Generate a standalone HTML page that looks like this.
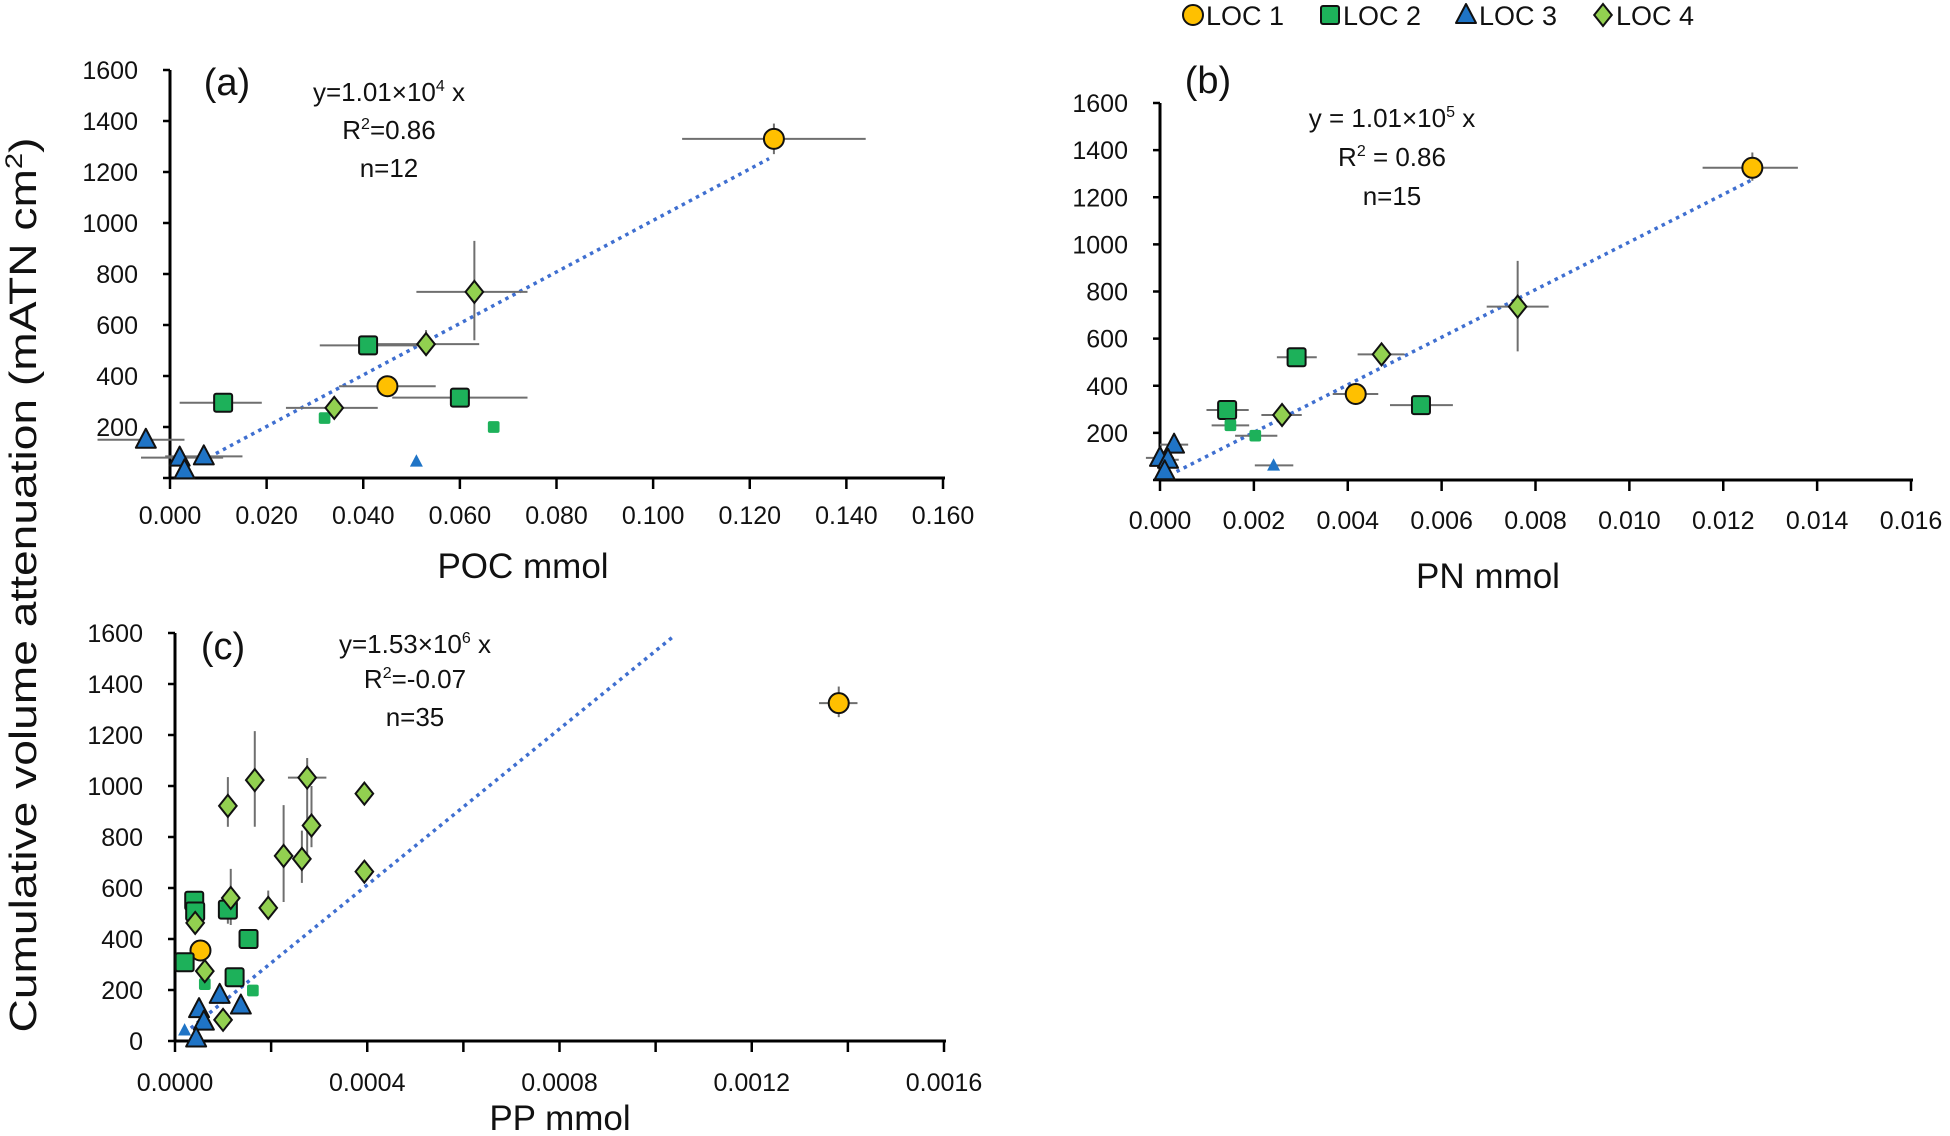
<!DOCTYPE html>
<html><head><meta charset="utf-8"><style>
html,body{margin:0;padding:0;background:#fff;overflow:hidden;}
svg{display:block;font-family:"Liberation Sans",sans-serif;}
</style></head><body>
<svg id="chart" width="1950" height="1136" viewBox="0 0 1950 1136" xmlns="http://www.w3.org/2000/svg"></svg>
<script>
// ---- data ----
const seriesNames = ["LOC 1","LOC 2","LOC 3","LOC 4"];
// points: [x, y, xLow, xHigh, yLow, yHigh, small(0/1)]
const aLoc1 = [[0.125,1330,0.106,0.144,1270,1390,0],[0.045,360,0.035,0.055,330,390,0]];
const aLoc2 = [[0.011,295,0.002,0.019,260,330,0],[0.041,520,0.031,0.054,520,520,0],[0.060,315,0.046,0.074,315,315,0],[0.032,235,0.032,0.032,235,235,1],[0.067,200,0.067,0.067,200,200,1]];
const aLoc3 = [[-0.005,150,-0.015,0.003,150,150,0],[0.002,80,-0.006,0.011,80,80,0],[0.007,85,-0.001,0.015,85,85,0],[0.003,30,0.003,0.003,30,30,0],[0.051,65,0.051,0.051,65,65,1]];
const aLoc4 = [[0.063,730,0.051,0.074,540,930,0],[0.053,525,0.043,0.064,480,580,0],[0.034,275,0.024,0.043,250,300,0]];
const bLoc1 = [[0.01262,1325,0.01156,0.01359,1270,1390,0],[0.00417,365,0.00368,0.00465,365,365,0]];
const bLoc2 = [[0.00291,521,0.00249,0.00334,521,521,0],[0.00143,297,0.00099,0.00189,297,297,0],[0.00556,318,0.00490,0.00624,318,318,0],[0.0015,232,0.0011,0.0019,232,232,1],[0.00203,188,0.0016,0.0025,188,188,1]];
const bLoc3 = [[0.0003,150,0.0,0.0006,150,150,0],[0.0,94,-0.0003,0.0003,94,94,0],[0.00017,86,-0.0001,0.0004,86,86,0],[0.0001,37,0.0001,0.0001,37,37,0],[0.00242,62,0.00202,0.00284,62,62,1]];
const bLoc4 = [[0.00762,736,0.00696,0.00828,546,930,0],[0.00472,533,0.00421,0.00521,533,533,0],[0.0026,276,0.00216,0.00302,276,276,0]];
const cLoc1 = [[0.001381,1325,0.00134,0.00142,1270,1390,0],[0.000053,355,0.000053,0.000053,355,355,0]];
const cLoc2 = [[0.00004,550,0.00004,0.00004,550,550,0],[0.000042,508,0.000042,0.000042,508,508,0],[0.00002,309,0.00002,0.00002,309,309,0],[0.00011,515,0.00011,0.00011,460,515,0],[0.000153,400,0.000153,0.000153,400,400,0],[0.000124,250,0.000124,0.000124,250,250,0],[0.000162,198,0.000162,0.000162,198,198,1],[0.000062,223,0.000062,0.000062,223,223,1]];
const cLoc3 = [[0.000093,181,0.000093,0.000093,181,181,0],[0.00005,125,0.00005,0.00005,125,125,0],[0.00006,76,0.00006,0.00006,76,76,0],[0.000044,10,0.000044,0.000044,10,10,0],[0.000137,139,0.000137,0.000137,139,139,0],[0.00002,42,0.00002,0.00002,42,42,1]];
const cLoc4 = [[0.000166,1023,0.000166,0.000166,840,1215,0],[0.00011,922,0.00011,0.00011,840,1035,0],[0.000275,1033,0.000235,0.000315,700,1110,0],[0.000394,970,0.000394,0.000394,970,970,0],[0.000284,845,0.000284,0.000284,760,1000,0],[0.000226,726,0.000226,0.000226,545,925,0],[0.000264,714,0.000264,0.000264,620,825,0],[0.000394,664,0.000394,0.000394,664,664,0],[0.000116,561,0.000116,0.000116,455,675,0],[0.000194,522,0.000194,0.000194,522,590,0],[0.000042,463,0.000042,0.000042,463,463,0],[0.000062,274,0.000062,0.000062,274,274,0],[0.0001,83,0.0001,0.0001,83,83,0]];
const aTicksX = ["0.000","0.020","0.040","0.060","0.080","0.100","0.120","0.140","0.160"];
const bTicksX = ["0.000","0.002","0.004","0.006","0.008","0.010","0.012","0.014","0.016"];
const cTicksX = ["0.0000","","0.0004","","0.0008","","0.0012","","0.0016"];
const yTicksAB = ["","200","400","600","800","1000","1200","1400","1600"];
const yTicksC = ["0","200","400","600","800","1000","1200","1400","1600"];
const aTrend = [0.0095, 0.124]; const aSlope = 10100;
const bTrend = [0.0002, 0.0126]; const bSlope = 101000;
const cTrend = [0.00002, 0.00104]; const cSlope = 1530000;

// ---- drawing ----
const NS="http://www.w3.org/2000/svg";
const svg=document.getElementById('chart');
function mk(tag,attrs,parent){const e=document.createElementNS(NS,tag);for(const k in attrs)e.setAttribute(k,attrs[k]);(parent||svg).appendChild(e);return e;}
const colors=["#FFC000","#1DB15A","#1F74C6","#92D050"];

function panel(id,px0,px1,xmax,py0,py1,ticksX,ticksY,sets,trend,slope,label,labX,labY,eq,eqX,eqY,xTitle,xtY,titleX,titleY){
  const g=mk('g',{});
  
  
  const X=v=>px0+(v/xmax)*(px1-px0);
  const Y=v=>py0+(v/1600)*(py1-py0);
  const ax=mk('line',{x1:px0,y1:py0,x2:px1+2,y2:py0,stroke:'#000','stroke-width':3},g);
  
  const ay=mk('line',{x1:px0,y1:py0+1,x2:px0,y2:py1,stroke:'#000','stroke-width':3},g);
  
  ticksX.forEach((t,i)=>{const x=px0+i*(px1-px0)/(ticksX.length-1);
    mk('line',{x1:x,y1:py0,x2:x,y2:py0+11,stroke:'#000','stroke-width':2.5},g);
    if(t){const tx=mk('text',{x:x,y:xtY,'font-size':25,'text-anchor':'middle',fill:'#111'},g);tx.textContent=t;
      }});
  ticksY.forEach((t,i)=>{const y=Y(i*200);
    mk('line',{x1:px0-7,y1:y,x2:px0,y2:y,stroke:'#000','stroke-width':2.5},g);
    if(t){const ty=mk('text',{x:px0-32,y:y+9,'font-size':25,'text-anchor':'end',fill:'#111'},g);ty.textContent=t;
      }});
  const tl=mk('line',{x1:X(trend[0]),y1:Y(trend[0]*slope),x2:X(trend[1]),y2:Y(trend[1]*slope),stroke:'#3F6FD0','stroke-width':3.5,'stroke-dasharray':'3.5 4.5'},g);
  
  sets.forEach(pts=>pts.forEach(p=>{
    if(p[3]>p[2]){const e=mk('line',{x1:X(p[2]),y1:Y(p[1]),x2:X(p[3]),y2:Y(p[1]),stroke:'#6f6f6f','stroke-width':2},g);
      }
    if(p[5]>p[4]){const e=mk('line',{x1:X(p[0]),y1:Y(p[4]),x2:X(p[0]),y2:Y(p[5]),stroke:'#6f6f6f','stroke-width':2},g);
      }
  }));
  sets.forEach((pts,si)=>pts.forEach(p=>{
    const m=marker(g,si,X(p[0]),Y(p[1]),p[6]?0.65:1,!p[6]);
    
    
  }));
  const pl=mk('text',{x:labX,y:labY,'font-size':38,'text-anchor':'middle',fill:'#111'},g);pl.textContent=label;
  
  eq.forEach((ln,i)=>{const t=mk('text',{x:eqX,y:eqY[i],'font-size':26,'text-anchor':'middle',fill:'#111'},g);
    t.innerHTML=ln; });
  const xt=mk('text',{x:titleX,y:titleY,'font-size':35,'text-anchor':'middle',fill:'#111'},g);xt.textContent=xTitle;
  
}
function marker(g,si,x,y,s,stroke){
  const sw=stroke?2:0, st=stroke?'#111':'none';
  if(si===0) return mk('circle',{cx:x,cy:y,r:10*s,fill:colors[0],stroke:st,'stroke-width':sw},g);
  if(si===1){const h=9*s;return mk('rect',{x:x-h,y:y-h,width:2*h,height:2*h,rx:2,fill:colors[1],stroke:st,'stroke-width':sw},g);}
  if(si===2){const h=10*s;return mk('polygon',{points:`${x},${y-h*1.1} ${x+h},${y+h*0.8} ${x-h},${y+h*0.8}`,fill:colors[2],stroke:st,'stroke-width':sw,'stroke-linejoin':'round'},g);}
  const h=11*s;return mk('polygon',{points:`${x},${y-h} ${x+h*0.8},${y} ${x},${y+h} ${x-h*0.8},${y}`,fill:colors[3],stroke:st,'stroke-width':sw},g);
}
panel('a',170,943,0.16,478,70,aTicksX,yTicksAB,[aLoc1,aLoc2,aLoc3,aLoc4],aTrend,aSlope,'(a)',227,95,
  ['y=1.01×10<tspan dy="-10" font-size="16">4</tspan><tspan dy="10"> x</tspan>','R<tspan dy="-10" font-size="16">2</tspan><tspan dy="10">=0.86</tspan>','n=12'],389,[101,139,177],'POC mmol',524,523,578);
panel('b',1160,1911,0.016,480,103,bTicksX,yTicksAB,[bLoc1,bLoc2,bLoc3,bLoc4],bTrend,bSlope,'(b)',1208,93,
  ['y = 1.01×10<tspan dy="-10" font-size="16">5</tspan><tspan dy="10"> x</tspan>','R<tspan dy="-10" font-size="16">2</tspan><tspan dy="10"> = 0.86</tspan>','n=15'],1392,[127,166,205],'PN mmol',529,1488,588);
panel('c',175,944,0.0016,1041,633,cTicksX,yTicksC,[cLoc1,cLoc2,cLoc3,cLoc4],cTrend,cSlope,'(c)',223,659,
  ['y=1.53×10<tspan dy="-10" font-size="16">6</tspan><tspan dy="10"> x</tspan>','R<tspan dy="-10" font-size="16">2</tspan><tspan dy="10">=-0.07</tspan>','n=35'],415,[653,688,726],'PP mmol',1091,560,1130);
const yt=mk('text',{x:0,y:0,'font-size':38,'text-anchor':'middle',fill:'#111',transform:'translate(36,585) rotate(-90)',textLength:895,lengthAdjust:'spacingAndGlyphs'});
yt.innerHTML='Cumulative volume attenuation  (mATN cm<tspan dy="-14" font-size="24">2</tspan><tspan dy="14">)</tspan>';

const lg=mk('g',{});

const legX=[1193,1330,1466,1603];
seriesNames.forEach((n,i)=>{
  const e=mk('g',{},lg);
  
  marker(e,i,legX[i],15,1,true);
  const t=mk('text',{x:legX[i]+13,y:25,'font-size':27,fill:'#111'},e);t.textContent=n;
});
</script>
</body></html>
